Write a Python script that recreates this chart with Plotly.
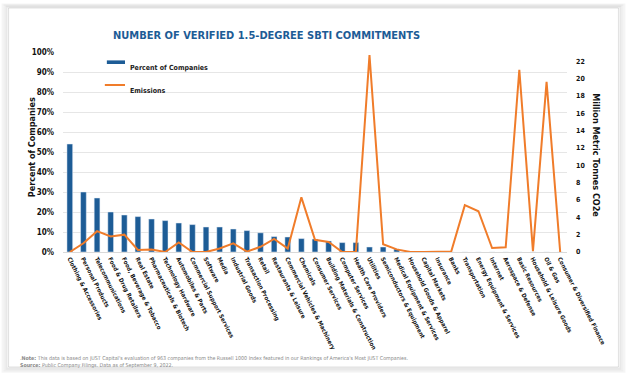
import plotly.graph_objects as go

categories = [
    "Clothing & Accessories", "Personal Products", "Telecommunications", "Food & Drug Retailers",
    "Food, Beverage & Tobacco", "Real Estate", "Pharmaceuticals & Biotech", "Technology Hardware",
    "Automobiles & Parts", "Commercial Support Services", "Software", "Media", "Industrial Goods",
    "Transaction Processing", "Retail", "Restaurants & Leisure", "Commercial Vehicles & Machinery",
    "Chemicals", "Consumer Services", "Building Materials & Construction", "Computer Services",
    "Health Care Providers", "Utilities", "Semiconductors & Equipment", "Medical Equipment & Services",
    "Household Goods & Apparel", "Capital Markets", "Insurance", "Banks", "Transportation",
    "Energy Equipment & Services", "Internet", "Aerospace & Defense", "Basic Resources",
    "Household & Leisure Goods", "Oil & Gas", "Consumer & Diversified Finance",
]
pct_companies = [54, 30, 27, 20, 18.5, 17.7, 16.5, 15.7, 14.5, 13.7, 12.5, 12.5, 11.5, 10.7, 9.6,
                 7.7, 7.5, 6.7, 6.5, 5.5, 4.7, 4.7, 2.5, 2.5, 1.5, 0, 0, 0, 0, 0, 0, 0, 0, 0, 0, 0, 0]
emissions = [0, 1.0, 2.4, 1.8, 2.0, 0.23, 0.3, 0, 1.1, 0, 0, 0.4, 1.0, 0.05, 0.6, 1.5, 0.4,
             6.3, 1.4, 1.15, 0, 0, 22.7, 0.9, 0.3, 0, 0, 0, 0.05, 5.4, 4.7, 0.46, 0.55, 21.0,
             0.1, 19.6, 0]
left_ticks = [0, 10, 20, 30, 40, 50, 60, 70, 80, 90, 100]
right_ticks = [0, 2, 4, 6, 8, 10, 12, 14, 16, 18, 20, 22]

FONT = "DejaVu Sans Condensed, Roboto, sans-serif"
BLUE = "#1d5c96"
ORANGE = "#f07c2a"

fig = go.Figure()
fig.add_trace(go.Bar(x=categories, y=pct_companies, name="Percent of Companies",
                     marker=dict(color=BLUE), yaxis="y"))
fig.add_trace(go.Scatter(x=categories, y=emissions, name="Emissions", mode="lines",
                         line=dict(color=ORANGE, width=2), yaxis="y2"))

# card with soft shadow
shapes = []
for i, op in enumerate([0.04, 0.06, 0.09]):
    d = (3 - i) * 0.004
    shapes.append(dict(type="rect", xref="paper", yref="paper", layer="below",
                       x0=-0.108 - d, x1=1.102 + d, y0=-0.575 - d * 2, y1=1.22 + d * 1.5,
                       line=dict(color=f"rgba(0,0,0,{op})", width=2), fillcolor="rgba(0,0,0,0)"))
shapes.append(dict(type="rect", xref="paper", yref="paper", layer="below",
                   x0=-0.108, x1=1.102, y0=-0.575, y1=1.22,
                   line=dict(color="rgba(0,0,0,0.12)", width=1), fillcolor="white"))
# legend swatches
shapes.append(dict(type="rect", xref="paper", yref="paper", x0=0.087, x1=0.123, y0=0.94, y1=0.958,
                   fillcolor=BLUE, line=dict(width=0)))
shapes.append(dict(type="line", xref="paper", yref="paper", x0=0.083, x1=0.123, y0=0.835, y1=0.835,
                   line=dict(color=ORANGE, width=2)))

annotations = [
    dict(text="<b>NUMBER OF VERIFIED 1.5-DEGREE SBTI COMMITMENTS</b>", xref="paper", yref="paper",
         x=0.403, y=1.125, showarrow=False, font=dict(family=FONT, size=11, color=BLUE)),
    dict(text="<b>Percent of Companies</b>", xref="paper", yref="paper", x=0.129, y=0.949,
         xanchor="left", showarrow=False, font=dict(family=FONT, size=7, color="#222")),
    dict(text="<b>Emissions</b>", xref="paper", yref="paper", x=0.129, y=0.835,
         xanchor="left", showarrow=False, font=dict(family=FONT, size=7, color="#222")),
    dict(text="<b>Percent of Companies</b>", xref="paper", yref="paper", x=-0.075, y=0.525,
         textangle=-90, showarrow=False, font=dict(family=FONT, size=9, color="#111")),
    dict(text="<b>Million Metric Tonnes CO2e</b>", xref="paper", yref="paper", x=1.071, y=0.485,
         textangle=90, showarrow=False, font=dict(family=FONT, size=9, color="#111")),
    dict(text=".<b>Note:</b> This data is based on JUST Capital's evaluation of 963 companies from the Russell 1000 Index featured in our Rankings of America's Most JUST Companies.<br><b>Source:</b> Public Company Filings. Data as of September 9, 2022.",
         xref="paper", yref="paper", x=-0.089, y=-0.505, xanchor="left", yanchor="top", align="left",
         showarrow=False, font=dict(family=FONT, size=5.3, color="#888")),
]

fig.update_layout(
    width=628, height=378,
    margin=dict(l=63, r=61, t=52, b=126),
    paper_bgcolor="white", plot_bgcolor="white",
    showlegend=False, bargap=0.58,
    font=dict(family=FONT, color="#222"),
    xaxis=dict(tickangle=63, tickfont=dict(family=FONT, size=6, color="#111"),
               showgrid=False, showline=True, linecolor="#d9d9d9", ticks="",
               tickprefix="<b>", ticksuffix="</b>", automargin=False),
    yaxis=dict(range=[0, 100], tickvals=left_ticks, ticktext=[f"<b>{v}%</b>" for v in left_ticks],
               showgrid=True, gridcolor="#e6e6e6", zeroline=False, automargin=False,
               tickfont=dict(family=FONT, size=8, color="#111"), ticks="", ticklabelstandoff=8),
    yaxis2=dict(range=[0, 23.05], overlaying="y", side="right", tickvals=right_ticks,
                ticktext=[f"<b>{v}</b>" for v in right_ticks], showgrid=False, zeroline=False,
                automargin=False,
                tickfont=dict(family=FONT, size=7, color="#111"), ticks="", ticklabelstandoff=8),
    shapes=shapes, annotations=annotations,
)

fig.write_html("out.html", config={"displayModeBar": False},
               post_script="document.body.style.margin='0';")
